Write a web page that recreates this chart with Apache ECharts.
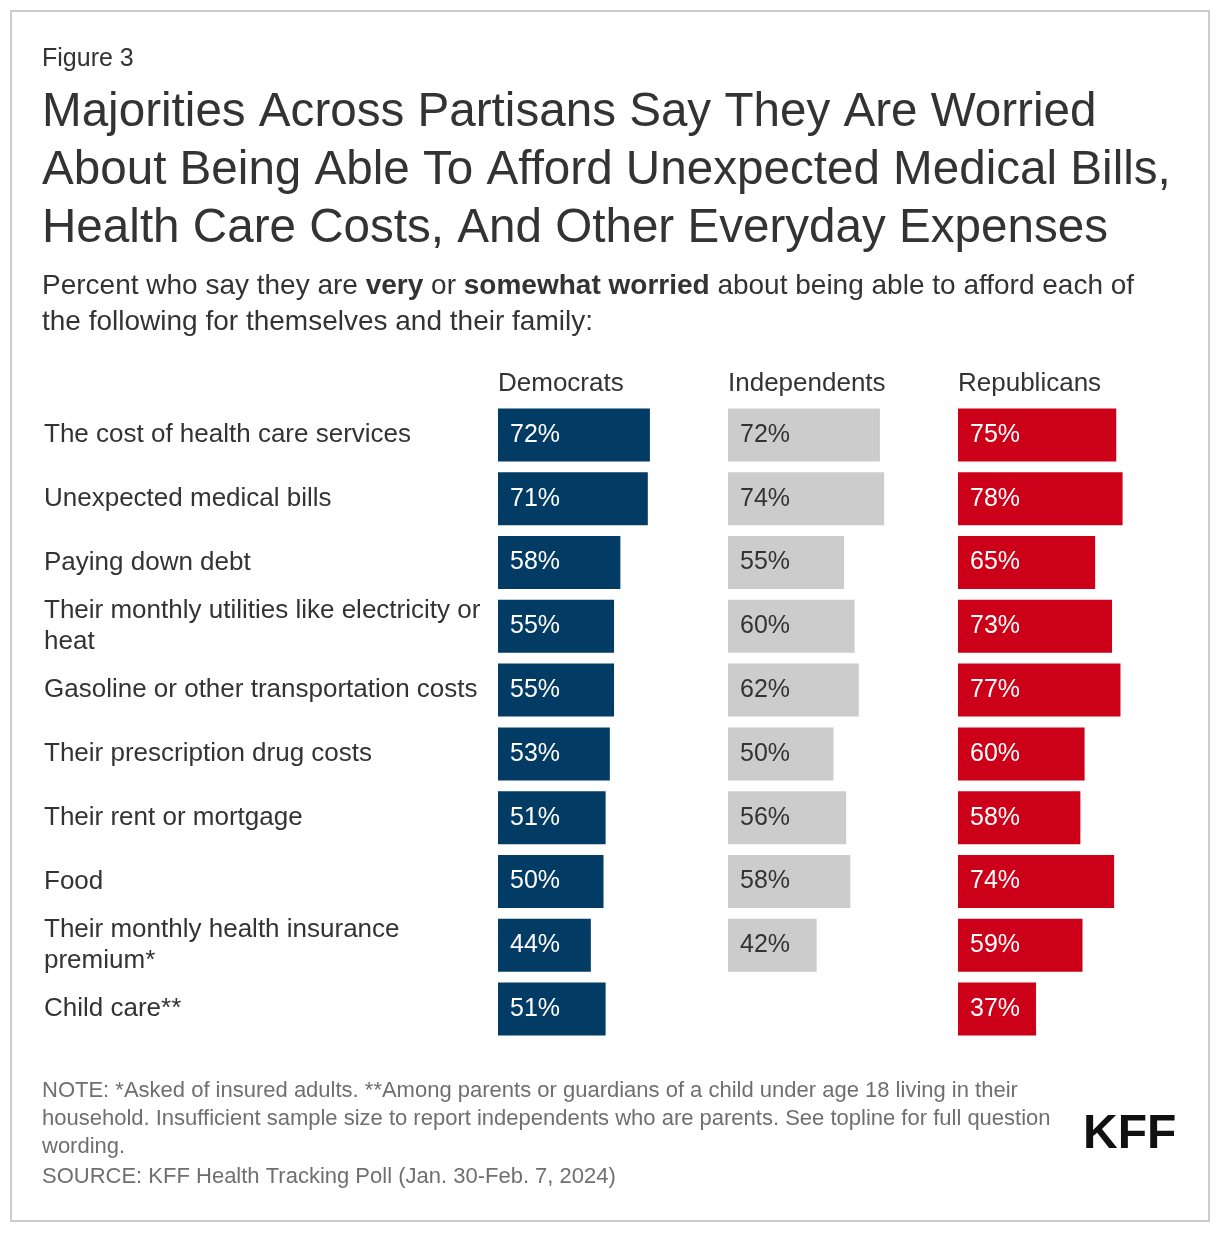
<!DOCTYPE html>
<html>
<head>
<meta charset="utf-8">
<script src="https://cdn.jsdelivr.net/npm/echarts@6/dist/echarts.min.js"></script>
<style>
html,body{margin:0;padding:0;background:#fff;}
#chart{width:1220px;height:1234px;}
</style>
</head>
<body>
<div id="chart"></div>
<script>
const categories = [
  "The cost of health care services",
  "Unexpected medical bills",
  "Paying down debt",
  "Their monthly utilities like electricity or heat",
  "Gasoline or other transportation costs",
  "Their prescription drug costs",
  "Their rent or mortgage",
  "Food",
  "Their monthly health insurance premium*",
  "Child care**"
];
const democrats    = [72, 71, 58, 55, 55, 53, 51, 50, 44, 51];
const independents = [72, 74, 55, 60, 62, 50, 56, 58, 42, '-'];
const republicans  = [75, 78, 65, 73, 77, 60, 58, 74, 59, 37];
const groupNames = ["Democrats", "Independents", "Republicans"];
const groupColors = ["#023b63", "#cccccc", "#cc0018"];
const labelColors = ["#ffffff", "#333333", "#ffffff"];
const groupLefts = [498, 728, 958];

const FONT = "'Liberation Sans', Arial, Helvetica, sans-serif";
const seriesData = [democrats, independents, republicans];

const grids = groupLefts.map(l => ({left: l, width: 211, top: 403, height: 638}));
const xAxes = groupLefts.map((l, i) => ({type: 'value', gridIndex: i, min: 0, max: 100, show: false}));
const yAxes = groupLefts.map((l, i) => ({
  type: 'category', gridIndex: i, inverse: true, data: categories,
  axisLine: {show: false}, axisTick: {show: false}, splitLine: {show: false},
  axisLabel: i === 0 ? {
    show: true, align: 'left', margin: 454, fontSize: 26, lineHeight: 31,
    color: '#333333', fontFamily: FONT, width: 448, overflow: 'break', padding: [3, 0, 0, 0]
  } : {show: false}
}));
const series = seriesData.map((d, i) => ({
  type: 'bar', xAxisIndex: i, yAxisIndex: i, data: d, barWidth: 53,
  itemStyle: {color: groupColors[i]},
  label: {show: true, position: 'insideLeft', distance: 12, formatter: '{c}%',
          fontSize: 25, color: labelColors[i], fontFamily: FONT, padding: [3, 0, 0, 0]},
  silent: true
}));

const titles = [
  {text: 'Figure 3', left: 42, top: 46, textStyle: {fontSize: 25, lineHeight: 26, fontWeight: 'normal', color: '#333333', fontFamily: FONT}},
  {text: 'Majorities Across Partisans Say They Are Worried\nAbout Being Able To Afford Unexpected Medical Bills,\nHealth Care Costs, And Other Everyday Expenses',
   left: 42, top: 84, textStyle: {fontSize: 47.6, lineHeight: 58, fontWeight: 'normal', color: '#333333', fontFamily: FONT}},
  {text: 'Percent who say they are {b|very} or {b|somewhat worried} about being able to afford each of\nthe following for themselves and their family:',
   left: 42, top: 268, textStyle: {fontSize: 28, lineHeight: 36, fontWeight: 'normal', color: '#333333', fontFamily: FONT,
     rich: {b: {fontSize: 28, lineHeight: 36, fontWeight: 'bold', color: '#333333', fontFamily: FONT}}}},
  {text: 'NOTE: *Asked of insured adults. **Among parents or guardians of a child under age 18 living in their\nhousehold. Insufficient sample size to report independents who are parents. See topline for full question\nwording.',
   left: 42, top: 1077, textStyle: {fontSize: 22, lineHeight: 28, fontWeight: 'normal', color: '#6f6f6f', fontFamily: FONT}},
  {text: 'SOURCE: KFF Health Tracking Poll (Jan. 30-Feb. 7, 2024)',
   left: 42, top: 1163, textStyle: {fontSize: 22, lineHeight: 28, fontWeight: 'normal', color: '#6f6f6f', fontFamily: FONT}}
].map(t => Object.assign({padding: 0}, t));

groupNames.forEach((n, i) => {
  titles.push({text: n, left: groupLefts[i], top: 370, padding: 0,
    textStyle: {fontSize: 26, lineHeight: 27, fontWeight: 'normal', color: '#333333', fontFamily: FONT}});
});

const option = {
  backgroundColor: '#ffffff',
  animation: false,
  title: titles,
  grid: grids,
  xAxis: xAxes,
  yAxis: yAxes,
  series: series,
  graphic: [
    {type: 'rect', shape: {x: 11, y: 11, width: 1198, height: 1210},
     style: {fill: 'none', stroke: '#cccccc', lineWidth: 2}, silent: true},
    {type: 'text', left: 1083, top: 1111,
     style: {text: 'KFF', fontSize: 48, fontWeight: 'bold', fill: '#111111', fontFamily: FONT}}
  ]
};
const chart = echarts.init(document.getElementById('chart'), null, {renderer: 'canvas'});
chart.setOption(option);
</script>
</body>
</html>
